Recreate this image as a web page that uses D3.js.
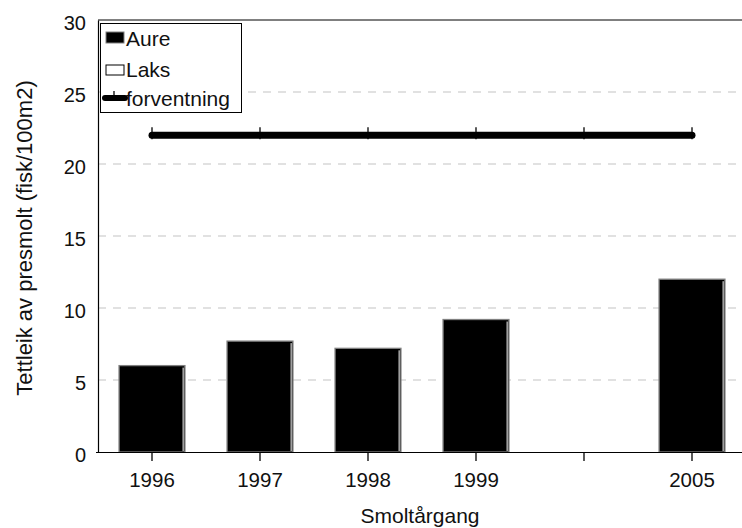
<!DOCTYPE html>
<html>
<head>
<meta charset="utf-8">
<script src="https://cdn.jsdelivr.net/npm/d3@7"></script>
<style>
  html, body { margin: 0; padding: 0; background: #fff; }
  svg { display: block; font-family: "Liberation Sans", Arial, sans-serif; }
</style>
</head>
<body>
<svg id="chart" width="742" height="528"></svg>
<script>
// Smolt year classes (one slot left empty between 1999 and 2005)
const categories = ["1996", "1997", "1998", "1999", "", "2005"];
// Density of brown trout (Aure) presmolt, fish per 100 m2
const aure = [6.0, 7.7, 7.2, 9.2, null, 12.0];
// Salmon (Laks) – no registered values
const laks = [null, null, null, null, null, null];
// Expected density
const forventning = [22, 22, 22, 22, 22, 22];
const yTicks = [0, 5, 10, 15, 20, 25, 30];

const svg = d3.select("#chart");
const plotLeft = 98, plotRight = 746, plotTop = 20, plotBottom = 452;

const x = d3.scaleBand().domain(d3.range(categories.length)).range([plotLeft, plotRight]).paddingInner(0).paddingOuter(0);
const y = d3.scaleLinear().domain([0, 30]).range([plotBottom, plotTop]);
const barW = x.bandwidth() * 0.61;
const cx = i => x(i) + x.bandwidth() / 2;

// dashed gridlines
svg.append("g").selectAll("line").data(yTicks.filter(t => t > 0 && t < 30)).join("line")
  .attr("x1", plotLeft).attr("x2", 742).attr("y1", d => y(d)).attr("y2", d => y(d))
  .attr("stroke", "#c4c4c4").attr("stroke-width", 1.2).attr("stroke-dasharray", "8,7");

// top frame line
svg.append("line").attr("x1", plotLeft).attr("x2", 742).attr("y1", y(30)).attr("y2", y(30))
  .attr("stroke", "#000").attr("stroke-width", 1);

// bars (Aure)
const bars = svg.append("g");
aure.forEach((v, i) => {
  if (v == null) return;
  const x0 = cx(i) - barW / 2;
  bars.append("rect").attr("x", x0).attr("y", y(v)).attr("width", barW).attr("height", y(0) - y(v))
    .attr("fill", "#000").attr("stroke", "#808080").attr("stroke-width", 1.3);
  bars.append("line").attr("x1", x0 + barW - 1.8).attr("x2", x0 + barW - 1.8)
    .attr("y1", y(v) + 2).attr("y2", y(0) - 1).attr("stroke", "#fff").attr("stroke-width", 1);
});

// y axis (labels only, plus line)
const yAxis = d3.axisLeft(y).tickValues(yTicks).tickSize(0).tickPadding(12);
const gy = svg.append("g").attr("transform", `translate(${plotLeft},0)`).call(yAxis);
gy.select(".domain").attr("stroke", "#000").attr("stroke-width", 1.2);
gy.selectAll("text").attr("font-size", 20).attr("fill", "#111").attr("dy", "0.45em")
  .attr("font-family", "Liberation Sans, Arial, sans-serif");

// x axis with ticks at category centres
const xAxis = d3.axisBottom(x).tickFormat(i => categories[i]).tickSize(9).tickSizeOuter(0).tickPadding(11);
const gx = svg.append("g").attr("transform", `translate(0,${plotBottom})`).call(xAxis);
gx.select(".domain").attr("stroke", "#000").attr("stroke-width", 1.2).attr("d", `M${plotLeft - 2},0.5H${plotRight}`);
gx.selectAll(".tick line").attr("stroke", "#000").attr("stroke-width", 1.3);
gx.selectAll("text").attr("font-size", 20.5).attr("fill", "#111")
  .attr("font-family", "Liberation Sans, Arial, sans-serif");

// expected level line
const line = d3.line().x((d, i) => cx(i)).y(d => y(d));
svg.append("path").datum(forventning).attr("d", line)
  .attr("fill", "none").attr("stroke", "#000").attr("stroke-width", 7).attr("stroke-linecap", "round");
svg.append("g").selectAll("line").data(forventning).join("line")
  .attr("x1", (d, i) => cx(i)).attr("x2", (d, i) => cx(i))
  .attr("y1", d => y(d) - 8).attr("y2", d => y(d) + 4)
  .attr("stroke", "#000").attr("stroke-width", 1.3);

// axis titles
svg.append("text").attr("x", 420).attr("y", 523).attr("text-anchor", "middle")
  .attr("font-size", 21).attr("fill", "#111").text("Smoltårgang");
svg.append("text").attr("transform", "translate(32,238) rotate(-90)").attr("text-anchor", "middle")
  .attr("font-size", 22).attr("fill", "#111").text("Tettleik av presmolt (fisk/100m2)");

// legend
const lg = svg.append("g");
lg.append("rect").attr("x", 100.5).attr("y", 23.5).attr("width", 141).attr("height", 89)
  .attr("fill", "#fff").attr("stroke", "#000").attr("stroke-width", 1);
lg.append("rect").attr("x", 106).attr("y", 32).attr("width", 18).attr("height", 11)
  .attr("fill", "#000").attr("stroke", "#808080").attr("stroke-width", 1);
lg.append("rect").attr("x", 106).attr("y", 65).attr("width", 18).attr("height", 10)
  .attr("fill", "#fff").attr("stroke", "#000").attr("stroke-width", 1);
lg.append("line").attr("x1", 105).attr("x2", 125).attr("y1", 98).attr("y2", 98)
  .attr("stroke", "#000").attr("stroke-width", 6).attr("stroke-linecap", "round");
lg.append("line").attr("x1", 114).attr("x2", 114).attr("y1", 91).attr("y2", 99)
  .attr("stroke", "#000").attr("stroke-width", 1.3);
const legendNames = ["Aure", "Laks", "forventning"];
const legendBase = [46, 77, 106];
legendNames.forEach((n, i) => {
  lg.append("text").attr("x", 126).attr("y", legendBase[i]).attr("font-size", 21)
    .attr("fill", "#111").text(n);
});
</script>
</body>
</html>
